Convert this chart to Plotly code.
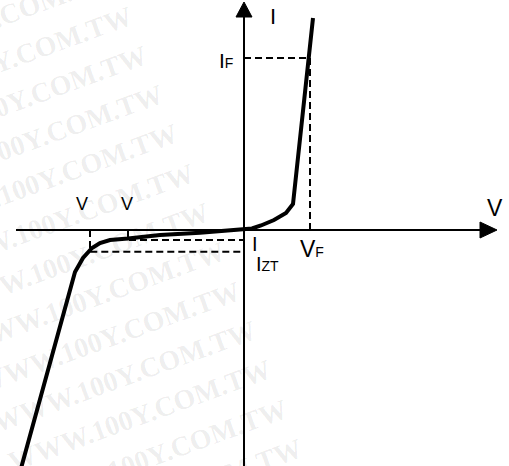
import plotly.graph_objects as go

# diode I-V characteristic (arbitrary units, origin = axis crossing)
rev_v = [-22.4, -17.2, -16.9, -16.1, -15.2, -14.4, -13.4, -11.6, -8.4, -4.4, -1.5, 0.0]
rev_i = [-24.2, -5.0, -4.2, -2.8, -1.8, -1.3, -1.0, -0.85, -0.5, -0.27, -0.08, 0.0]
fwd_v = [0.0, 0.8, 1.7, 3.0, 4.2, 4.9, 6.9]
fwd_i = [0.0, 0.15, 0.45, 1.0, 1.7, 2.6, 21.2]

# marked operating points
v_f, i_f = 6.6, 17.2
v_zt, i_zt = -15.4, -2.17
v_zk, i_zk = -11.6, -1.0

x_range = [-24.4, 26.5]
y_range = [-23.6, 23.0]

fig = go.Figure()

# watermark
for k in range(-1, 13):
    fig.add_annotation(text="<b>WWW.100Y.COM.TW</b>", xref="paper", yref="paper",
                       x=(0 + 15.5 * k) / 509, y=1 - (62 + 39.3 * k) / 466,
                       xanchor="center", yanchor="middle",
                       showarrow=False, textangle=-20,
                       font=dict(family="Liberation Serif", size=28, color="rgba(0,0,0,0.075)"))

dash = dict(color="black", width=2, dash="7px,4px")
fig.add_trace(go.Scatter(x=[0, v_f, v_f], y=[i_f, i_f, 0], mode="lines", line=dash))
fig.add_trace(go.Scatter(x=[v_zt, v_zt, 0], y=[0, i_zt, i_zt], mode="lines", line=dash))
fig.add_trace(go.Scatter(x=[v_zk, v_zk, 0], y=[0, i_zk, i_zk], mode="lines", line=dash))

# axes with arrow heads
ax = dict(color="black", width=2)
fig.add_trace(go.Scatter(x=[-22.8, 24.0], y=[0, 0], mode="lines", line=ax))
fig.add_trace(go.Scatter(x=[0, 0], y=[-23.6, 21.8], mode="lines", line=ax))
fig.add_trace(go.Scatter(x=[23.6, 25.3, 23.6, 23.6], y=[0.8, 0, -0.8, 0.8], mode="lines",
                         fill="toself", fillcolor="black", line=dict(color="black", width=1)))
fig.add_trace(go.Scatter(x=[-0.8, 0, 0.8, -0.8], y=[21.3, 22.8, 21.3, 21.3], mode="lines",
                         fill="toself", fillcolor="black", line=dict(color="black", width=1)))

# curve
fig.add_trace(go.Scatter(x=rev_v + fwd_v[1:], y=rev_i + fwd_i[1:], mode="lines",
                         line=dict(color="black", width=4)))

def label(x, y, t, size):
    fig.add_annotation(x=x, y=y, text=t, showarrow=False,
                       font=dict(family="Liberation Sans, Arial", size=size, color="black"))

small = "<span style='font-size:14px'>%s</span>"
label(2.9, 21.4, "I", 22)
label(25.1, 2.2, "V", 23)
label(-1.8, 17.0, "I" + small % "F", 21)
label(6.8, -1.9, "V" + small % "F", 23)
label(1.1, -1.4, "I", 20)
label(2.3, -3.4, "I" + small % "ZT", 20)
label(-16.2, 2.65, "V", 18)
label(-11.7, 2.65, "V", 18)

fig.update_layout(width=509, height=466, margin=dict(l=0, r=0, t=0, b=0),
                  plot_bgcolor="white", paper_bgcolor="white", showlegend=False,
                  xaxis=dict(range=x_range, visible=False),
                  yaxis=dict(range=y_range, visible=False))
fig.write_html("out.html", config={"displayModeBar": False},
               post_script="document.body.style.margin='0';")
